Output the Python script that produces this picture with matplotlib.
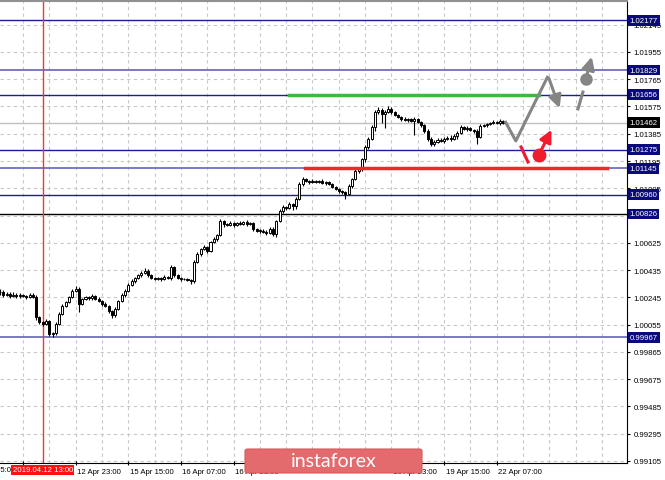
import matplotlib.pyplot as plt
import matplotlib.transforms as mtransforms
from matplotlib.patches import FancyBboxPatch
import numpy as np

# H1 candles, hour index 0 = 12 Apr 07:00
hours = np.arange(-7, 147)
first_open = 1.00280
closes = [
    1.00285, 1.00262, 1.00270, 1.00258, 1.00265, 1.00252, 1.00260, 1.00255, 1.00248, 1.00262, 1.00250,
    1.00108, 1.00073, 1.00060, 1.00080, 0.99990, 0.99995, 1.00060, 1.00130, 1.00185, 1.00213, 1.00248, 1.00290, 1.00304,
    1.00200, 1.00234, 1.00245, 1.00240, 1.00255, 1.00235, 1.00220, 1.00200, 1.00185, 1.00150, 1.00122,
    1.00165, 1.00220, 1.00262, 1.00290, 1.00332, 1.00360, 1.00380, 1.00400, 1.00415, 1.00430,
    1.00400, 1.00380, 1.00373, 1.00380, 1.00373, 1.00387, 1.00380, 1.00457, 1.00400, 1.00380, 1.00373, 1.00373, 1.00366, 1.00360,
    1.00492, 1.00548, 1.00582, 1.00596, 1.00568, 1.00631, 1.00652, 1.00680, 1.00777,
    1.00756, 1.00749, 1.00763, 1.00749, 1.00763, 1.00756, 1.00770, 1.00756, 1.00763,
    1.00722, 1.00708, 1.00708, 1.00701, 1.00694, 1.00722, 1.00687,
    1.00777, 1.00847, 1.00875, 1.00868, 1.00896, 1.00882, 1.00931, 1.01035, 1.01070,
    1.01056, 1.01049, 1.01056, 1.01049, 1.01056, 1.01042, 1.01049, 1.01035, 1.01014, 1.01000, 1.00986, 1.00979, 1.00966,
    1.01021, 1.01070, 1.01126, 1.01140, 1.01209, 1.01293, 1.01349, 1.01432, 1.01537, 1.01551,
    1.01523, 1.01537, 1.01558, 1.01537, 1.01516, 1.01502, 1.01488, 1.01481, 1.01488, 1.01474, 1.01488, 1.01467,
    1.01446, 1.01405, 1.01349, 1.01314, 1.01328, 1.01342, 1.01335, 1.01349, 1.01356, 1.01349,
    1.01370, 1.01391, 1.01432, 1.01418, 1.01425, 1.01411, 1.01405, 1.01363,
    1.01439, 1.01446, 1.01453, 1.01460, 1.01467, 1.01460, 1.01474, 1.01462,
]
# wicks in points (0.00001)
upper_wick = [
    20, 10, 12, 10, 15, 10, 12, 10, 10, 15,
    10, 10, 8, 10, 15, 8, 10, 10, 10, 12,
    10, 10, 15, 20, 15, 10, 12, 10, 15, 10,
    10, 8, 10, 10, 10, 10, 10, 12, 10, 15,
    12, 10, 10, 15, 20, 10, 8, 10, 10, 10,
    12, 10, 15, 10, 8, 10, 10, 8, 10, 10,
    12, 10, 15, 10, 10, 12, 10, 15, 10, 10,
    12, 10, 10, 15, 10, 12, 10, 10, 8, 10,
    10, 10, 12, 10, 10, 12, 15, 10, 12, 10,
    10, 12, 15, 10, 10, 12, 10, 10, 12, 10,
    10, 8, 10, 10, 10, 10, 15, 10, 10, 12,
    10, 12, 10, 12, 15, 20, 10, 15, 20, 10,
    10, 10, 10, 12, 10, 10, 12, 10, 10, 10,
    10, 10, 12, 10, 10, 12, 10, 20, 15, 10,
    15, 10, 12, 10, 10, 10, 15, 10, 10, 10,
    12, 10, 15, 8,
]
lower_wick = [
    15, 12, 10, 15, 10, 12, 10, 10, 12, 10,
    12, 20, 15, 12, 10, 15, 18, 12, 10, 10,
    10, 10, 8, 10, 60, 10, 10, 12, 10, 10,
    10, 12, 10, 12, 20, 15, 10, 10, 12, 10,
    10, 12, 10, 10, 10, 12, 10, 10, 10, 12,
    10, 10, 15, 10, 10, 12, 10, 10, 20, 15,
    10, 12, 10, 15, 10, 10, 15, 10, 20, 10,
    10, 12, 10, 10, 10, 12, 10, 15, 10, 12,
    10, 12, 10, 15, 20, 10, 12, 15, 10, 30,
    20, 10, 15, 10, 12, 10, 10, 10, 10, 12,
    10, 10, 10, 12, 12, 35, 10, 15, 10, 12,
    15, 20, 15, 10, 25, 15, 60, 100, 10, 12,
    10, 10, 12, 10, 15, 10, 100, 10, 12, 15,
    12, 15, 12, 10, 10, 12, 10, 15, 10, 20,
    10, 10, 12, 10, 15, 50, 10, 10, 12, 10,
    10, 10, 12, 10,
]

levels = [1.02177, 1.01829, 1.01656, 1.01275, 1.01145, 1.00960, 1.00826, 0.99967]
level_colors = ['#1c1c9c', '#7070c0', '#1c1c9c', '#1c1c9c', '#7070c0', '#1c1c9c', '#000000', '#7070c0']
current_price = 1.01462

y_ticks = [0.99105, 0.99295, 0.99485, 0.99675, 0.99865, 1.00055, 1.00245, 1.00435, 1.00625,
           1.00815, 1.01005, 1.01195, 1.01385, 1.01575, 1.01765, 1.01955, 1.02145]
# 1.00815 sits under the 1.00826 price box
y_labels = ['0.99105', '0.99295', '0.99485', '0.99675', '0.99865', '1.00055', '1.00245', '1.00435',
            '1.00625', '', '1.01005', '1.01195', '1.01385', '1.01575', '1.01765', '1.01955', '1.02145']
x_ticks = [0, 16, 32, 48, 64, 80, 96, 112, 128, 144]
# labels hidden under the date marker and the logo are left blank
x_labels = ['', '12 Apr 23:00', '15 Apr 15:00', '16 Apr 07:00',
            '16 Apr 23:00', '', '', '18 Apr 23:00', '19 Apr 15:00', '22 Apr 07:00']
cut_label = (-16, '11 Apr 15:00')  # runs off the left edge
grid_hours = [-8, 0, 8, 16, 24, 32, 40, 48, 56, 64, 72, 80, 88, 96, 104, 112, 120, 128,
              136, 144, 152, 160, 168, 176]
marker_hour = 6  # 2019.04.12 13:00

# support / resistance segments (start hour, end hour, price)
green_seg = (80.9, 157.0, 1.01656)
red_seg = (85.7, 177.5, 1.01145)

# forecast sketch
gray_path_h = [146.5, 149.8, 159.6]
gray_path_p = [1.01474, 1.01335, 1.01788]
gray_arrow_end = (163.4, 1.01545)
gray_dash = ([168.7, 170.2], [1.01558, 1.01676])
gray_dot = (171.1, 1.01767)
gray_arrow2_end = (173.1, 1.01940)
red_dash = ([151.4, 153.5], [1.01293, 1.01188])
red_dot = (156.8, 1.01237)
red_arrow_end = (161.0, 1.01430)

plt.rcParams['font.family'] = ['Liberation Sans', 'DejaVu Sans']

fig = plt.figure(figsize=(6.65, 4.81), dpi=100)
ax = fig.add_axes([0, 1 - 464 / 481, 627 / 665, 462 / 481])

# grid
for g in grid_hours:
    ax.axvline(g, color='#c8c8c8', lw=0.8, ls=(0, (3, 3)), zorder=0)
for t in y_ticks:
    ax.axhline(t, color='#c8c8c8', lw=0.8, ls=(0, (3, 3)), zorder=0)

# levels
for lv, col in zip(levels, level_colors):
    ax.axhline(lv, color=col, lw=1.3 if col == '#7070c0' else 1.0, zorder=1)
ax.axhline(current_price, color='#c0c0c0', lw=1.0, zorder=1)
ax.axvline(marker_hour, color='#ff3030', lw=1.0, zorder=1)

# candles
closes = np.array(closes)
opens = np.r_[first_open, closes[:-1]]
highs = np.maximum(opens, closes) + np.array(upper_wick) * 1e-5
lows = np.minimum(opens, closes) - np.array(lower_wick) * 1e-5
ax.vlines(hours, lows, highs, color='black', lw=0.8, zorder=3)
up = closes >= opens
body = np.maximum(np.abs(closes - opens), 0.00003)
ax.bar(hours, body, bottom=np.minimum(opens, closes), width=0.62,
       color=np.where(up, 'white', 'black'), edgecolor='black', lw=0.7, zorder=4)

# trend segments
ax.plot(green_seg[:2], [green_seg[2]] * 2, color='#3cba3c', lw=2.5, zorder=5)
ax.plot(red_seg[:2], [red_seg[2]] * 2, color='#f02828', lw=2.5, zorder=5)

# forecast sketch
gcol = '#858585'
ax.plot(gray_path_h, gray_path_p, color=gcol, lw=2.2, zorder=6, solid_capstyle='butt')
ax.annotate('', xy=gray_arrow_end, xytext=(gray_path_h[-1], gray_path_p[-1]),
            arrowprops=dict(arrowstyle='-|>', color=gcol, lw=2.2, mutation_scale=19), zorder=6)
ax.plot(*gray_dash, color=gcol, lw=2.2, zorder=6)
ax.plot(gray_dot[0], gray_dot[1], 'o', color=gcol, ms=8, zorder=6)
ax.annotate('', xy=gray_arrow2_end, xytext=gray_dot,
            arrowprops=dict(arrowstyle='-|>', color=gcol, lw=2.2, mutation_scale=19), zorder=6)
rcol = '#f01c2c'
ax.plot(*red_dash, color=rcol, lw=2.2, zorder=6)
ax.plot(red_dot[0], red_dot[1], 'o', color=rcol, ms=9, zorder=6)
ax.annotate('', xy=red_arrow_end, xytext=red_dot,
            arrowprops=dict(arrowstyle='-|>', color=rcol, lw=2.2, mutation_scale=18), zorder=6)

# axes styling
ax.spines['left'].set_visible(False)
ax.spines['top'].set_color('#909090')
ax.spines['top'].set_linewidth(1.5)
ax.spines['right'].set_color('black')
ax.spines['bottom'].set_color('black')
ax.yaxis.tick_right()
ax.set_yticks(y_ticks)
ax.set_yticklabels(y_labels)
ax.tick_params(axis='y', labelsize=5.6, length=2.5, pad=2, width=0.8)
ax.set_xticks(x_ticks)
ax.set_xticklabels(x_labels, ha='left')
ax.tick_params(axis='x', labelsize=5.6, length=3, pad=2, width=0.8, direction='inout')
for lab in ax.get_xticklabels():
    lab.set_transform(lab.get_transform() + mtransforms.ScaledTranslation(1.5 / 100, 0, fig.dpi_scale_trans))
# limits after set_xticks, which would otherwise widen the view
ax.set_xlim(-6.99, 183.6)
ax.set_ylim(0.99091, 1.02310)

trans_x = mtransforms.blended_transform_factory(ax.transData, ax.transAxes)
ax.text(cut_label[0] + 0.45, -0.0075, cut_label[1], transform=trans_x, ha='left', va='top',
        fontsize=5.6, clip_on=False)

# price labels on the right
trans = mtransforms.blended_transform_factory(ax.transAxes, ax.transData)
for lv in levels:
    ax.text(1.004, lv, '%.5f' % lv, transform=trans, ha='left', va='center', fontsize=5.6,
            color='white', clip_on=False, zorder=10,
            bbox=dict(boxstyle='square,pad=0.25', fc='#0a0a7a', ec='none'))
ax.text(1.004, current_price, '%.5f' % current_price, transform=trans, ha='left', va='center',
        fontsize=5.6, color='white', clip_on=False, zorder=10,
        bbox=dict(boxstyle='square,pad=0.25', fc='black', ec='none'))

# date marker label
ax.text(marker_hour, -0.0075, '2019.04.12 13:00', transform=trans_x, ha='center', va='top',
        fontsize=5.6, color='white', clip_on=False, zorder=10,
        bbox=dict(boxstyle='square,pad=0.2', fc='#ff1010', ec='none'))

# logo
logo = FancyBboxPatch((245 / 665, 7 / 481), 177 / 665, 24 / 481, boxstyle='round,pad=0,rounding_size=0.004',
                      transform=fig.transFigure, fc='#e36b6d', ec='#d85a5c', lw=0.8, zorder=20)
fig.patches.append(logo)
fig.text(333.5 / 665, 19 / 481, 'instaforex', ha='center', va='center', color='white',
         fontsize=14, family=['Lato', 'DejaVu Sans'], zorder=21)

fig.savefig('out.png', dpi=100)
